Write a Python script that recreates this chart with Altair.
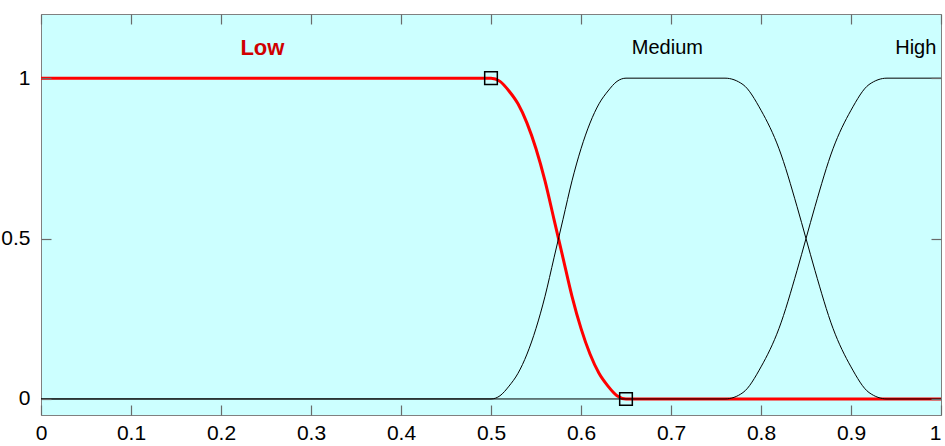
import altair as alt
import pandas as pd

# Axis ticks
x_ticks = [0, 0.1, 0.2, 0.3, 0.4, 0.5, 0.6, 0.7, 0.8, 0.9, 1.0]
y_ticks = [0, 0.5, 1]

# Membership curves
low_x = [0, 0.50, 0.51, 0.52, 0.53, 0.54, 0.55, 0.56, 0.57, 0.58, 0.59, 0.60,
         0.61, 0.62, 0.63, 0.64, 0.65, 1.0]
low_y = [1, 1, 0.99, 0.96, 0.92, 0.86, 0.78, 0.68, 0.56, 0.44, 0.32, 0.22,
         0.14, 0.08, 0.04, 0.01, 0, 0]

medium_x = [0, 0.50, 0.51, 0.52, 0.53, 0.54, 0.55, 0.56, 0.57, 0.58, 0.59, 0.60,
            0.61, 0.62, 0.63, 0.64, 0.65,
            0.76, 0.78, 0.80, 0.82, 0.84, 0.85, 0.86, 0.88, 0.90, 0.92, 0.94, 1.0]
medium_y = [0, 0, 0.01, 0.04, 0.08, 0.14, 0.22, 0.32, 0.44, 0.56, 0.68, 0.78,
            0.86, 0.92, 0.96, 0.99, 1,
            1, 0.98, 0.90, 0.78, 0.60, 0.50, 0.40, 0.22, 0.10, 0.02, 0, 0]

high_x = [0, 0.76, 0.78, 0.80, 0.82, 0.84, 0.85, 0.86, 0.88, 0.90, 0.92, 0.94, 1.0]
high_y = [0, 0, 0.02, 0.10, 0.22, 0.40, 0.50, 0.60, 0.78, 0.90, 0.98, 1, 1]

# Selected-curve handles
handle_x = [0.5, 0.65]
handle_y = [1, 0]

# Curve labels
label_names = ["Low", "Medium", "High"]
label_x = [0.246, 0.696, 0.972]
label_y = [1.093, 1.093, 1.093]

low_df = pd.DataFrame({"x": low_x, "y": low_y, "set": "Low"})
black_df = pd.concat([
    pd.DataFrame({"x": medium_x, "y": medium_y, "set": "Medium"}),
    pd.DataFrame({"x": high_x, "y": high_y, "set": "High"}),
], ignore_index=True)
handle_df = pd.DataFrame({"x": handle_x, "y": handle_y})
label_df = pd.DataFrame({"name": label_names, "x": label_x, "y": label_y})

FONT = "Liberation Sans"
xs = alt.Scale(domain=[0, 1], nice=False, zero=False)
ys = alt.Scale(domain=[-0.05, 1.2], nice=False, zero=False)

common_axis = dict(domain=False, grid=False, ticks=True, tickSize=10, offset=-10,
                   tickColor="#6a6a6a", tickWidth=1.2, title=None, zindex=1,
                   labelFont=FONT, labelFontSize=21, labelColor="#000000")

x_bottom = alt.Axis(orient="bottom", values=x_ticks, format="~g", labelPadding=7,
                    labelFlush=False,
                    labelAlign={"expr": "datum.value >= 1 ? 'right' : 'center'"},
                    **common_axis)
y_left = alt.Axis(orient="left", values=y_ticks, format="~g", labelPadding=11,
                  **common_axis)
x_top = alt.Axis(orient="top", values=x_ticks, labels=False, **common_axis)
y_right = alt.Axis(orient="right", values=y_ticks, labels=False, **common_axis)

low_line = alt.Chart(low_df).mark_line(
    color="#ff0000", strokeWidth=3, interpolate="monotone"
).encode(
    x=alt.X("x:Q", scale=xs, axis=x_bottom),
    y=alt.Y("y:Q", scale=ys, axis=y_left),
    order="x:Q",
)

black_lines = alt.Chart(black_df).mark_line(
    color="#000000", strokeWidth=1, interpolate="monotone"
).encode(
    x=alt.X("x:Q", scale=xs, axis=None),
    y=alt.Y("y:Q", scale=ys, axis=None),
    detail="set:N",
    order="x:Q",
)

handles = alt.Chart(handle_df).mark_point(
    shape="square", size=160, filled=False, color="#000000", strokeWidth=1.5, opacity=1
).encode(
    x=alt.X("x:Q", scale=xs, axis=x_top),
    y=alt.Y("y:Q", scale=ys, axis=y_right),
)

low_text = alt.Chart(label_df[label_df["name"] == "Low"]).mark_text(
    font=FONT, fontSize=22, fontWeight="bold", color="#d00000", baseline="middle"
).encode(
    x=alt.X("x:Q", scale=xs, axis=None),
    y=alt.Y("y:Q", scale=ys, axis=None),
    text="name:N",
)

other_text = alt.Chart(label_df[label_df["name"] != "Low"]).mark_text(
    font=FONT, fontSize=20, color="#000000", baseline="middle"
).encode(
    x=alt.X("x:Q", scale=xs, axis=None),
    y=alt.Y("y:Q", scale=ys, axis=None),
    text="name:N",
)

chart = alt.layer(
    low_line, black_lines, handles, low_text, other_text
).resolve_axis(
    x="independent", y="independent"
).properties(
    width=900,
    height=401,
    padding={"left": 41, "top": 14, "right": 4, "bottom": 31},
    autosize=alt.AutoSizeParams(type="none"),
    background="#ffffff",
).configure_view(
    fill="#ccffff", stroke="#808080", strokeWidth=1
)

chart.save("out.html", embed_options={"renderer": "svg", "actions": False})
